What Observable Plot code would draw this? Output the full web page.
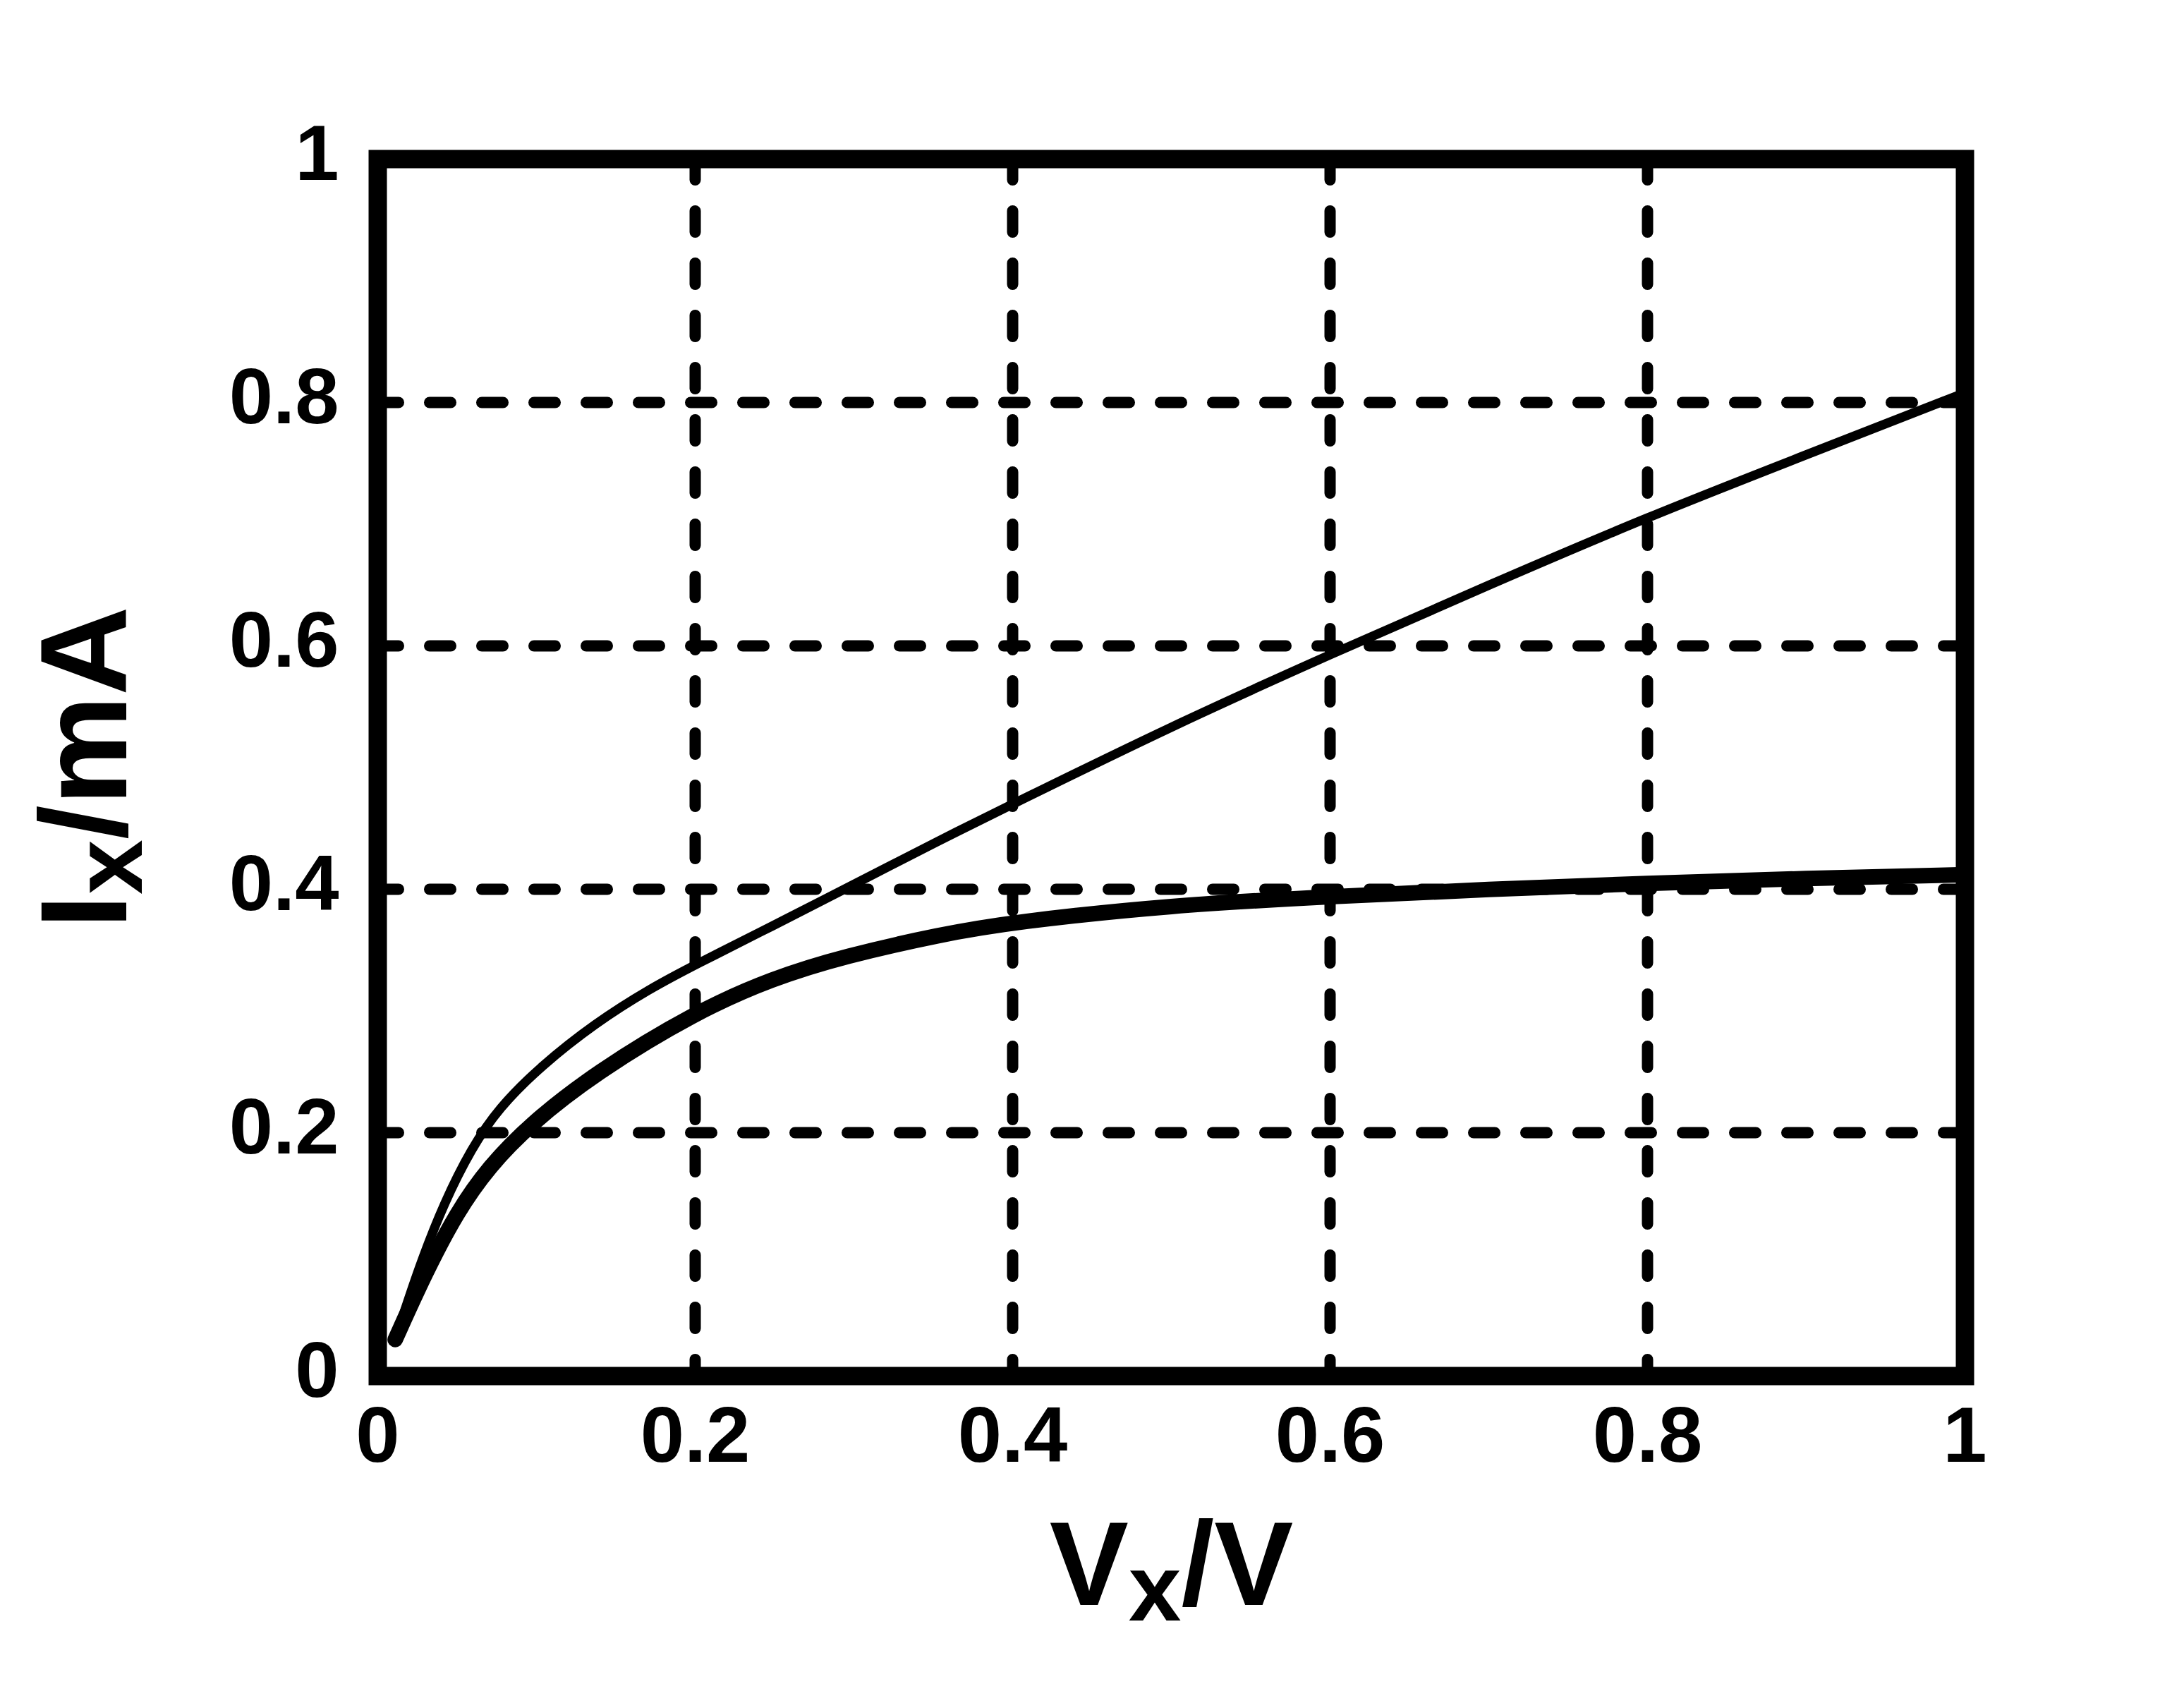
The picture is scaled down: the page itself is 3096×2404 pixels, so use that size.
<!DOCTYPE html>
<html>
<head>
<meta charset="utf-8">
<script src="https://cdn.jsdelivr.net/npm/d3@7"></script>
<script src="https://cdn.jsdelivr.net/npm/@observablehq/plot@0.6"></script>
<style>
  html, body { margin: 0; padding: 0; background: #fff; }
  svg { display: block; }
</style>
</head>
<body>
<div id="chart"></div>
<script>
// ---- data ----
const xTicks = [0, 0.2, 0.4, 0.6, 0.8, 1];
const yTicks = [0, 0.2, 0.4, 0.6, 0.8, 1];
const xGrid = [0.2, 0.4, 0.6, 0.8];
const yGrid = [0.2, 0.4, 0.6, 0.8];
const xTitle = ["V", "x", "/V"];
const yTitle = ["I", "x", "/mA"];

// upper (thin) curve
const upperVx = [0.011, 0.026, 0.042, 0.059, 0.076, 0.103, 0.137, 0.171, 0.2, 0.249, 0.294, 0.355, 0.4, 0.5, 0.6, 0.7, 0.8, 0.9, 1.0];
const upperIx = [0.03, 0.09, 0.143, 0.187, 0.22, 0.255, 0.29, 0.318, 0.338, 0.37, 0.4, 0.441, 0.47, 0.534, 0.593, 0.65, 0.706, 0.757, 0.808];

// lower (thick) curve
const lowerVx = [0.011, 0.03, 0.05, 0.07, 0.096, 0.137, 0.2, 0.249, 0.294, 0.355, 0.4, 0.5, 0.6, 0.7, 0.8, 0.9, 1.0];
const lowerIx = [0.03, 0.085, 0.135, 0.172, 0.207, 0.249, 0.299, 0.327, 0.345, 0.363, 0.373, 0.387, 0.394, 0.4, 0.405, 0.409, 0.412];

const upper = upperVx.map((v, i) => ({v, i: upperIx[i]}));
const lower = lowerVx.map((v, i) => ({v, i: lowerIx[i]}));

const FONT = "'Liberation Sans', Arial, sans-serif";
const gridStyle = {stroke: "#000", strokeOpacity: 1, strokeWidth: 16, strokeDasharray: "30,44", strokeLinecap: "round"};

const svg = Plot.plot({
  width: 3096,
  height: 2404,
  marginLeft: 535,
  marginRight: 311,
  marginTop: 225,
  marginBottom: 454,
  style: {fontFamily: FONT, fontWeight: "bold", color: "#000", background: "#fff", overflow: "visible"},
  x: {domain: [0, 1]},
  y: {domain: [0, 1]},
  marks: [
    Plot.ruleX(xGrid, gridStyle),
    Plot.ruleY(yGrid, gridStyle),
    Plot.line(lower, {x: "v", y: "i", stroke: "#000", strokeWidth: 22, curve: "basis", strokeLinecap: "round"}),
    Plot.line(upper, {x: "v", y: "i", stroke: "#000", strokeWidth: 13, curve: "basis", strokeLinecap: "round"}),
    Plot.frame({stroke: "#000", strokeWidth: 26}),
    Plot.axisX({ticks: xTicks, tickSize: 0, tickPadding: 42, fontSize: 112, label: null, tickFormat: d => String(d)}),
    Plot.axisY({ticks: yTicks, tickSize: 0, tickPadding: 55, fontSize: 112, label: null, tickFormat: d => String(d), dy: -6}),
    Plot.text([xTitle.join("")], {frameAnchor: "bottom", dy: 271, fontSize: 168, lineAnchor: "middle", fill: "#000"}),
    Plot.text([yTitle.join("")], {frameAnchor: "left", dx: -413, rotate: -90, fontSize: 175, lineAnchor: "middle", fill: "#000"})
  ]
});

document.getElementById("chart").append(svg);

// real subscripts for the axis titles, then re-centre each title on its anchor
d3.select(svg).selectAll("text").each(function() {
  const t = this.textContent;
  for (const parts of [xTitle, yTitle]) {
    if (t === parts.join("")) {
      const sel = d3.select(this);
      sel.text(null).attr("text-anchor", "start").attr("x", 0);
      sel.append("tspan").text(parts[0]);
      sel.append("tspan").attr("font-size", "0.8em").attr("dy", "22").text(parts[1]);
      sel.append("tspan").attr("dy", "-22").text(parts[2]);
      const bb = this.getBBox();
      sel.attr("x", -(bb.x + bb.width / 2));
    }
  }
});
</script>
</body>
</html>
